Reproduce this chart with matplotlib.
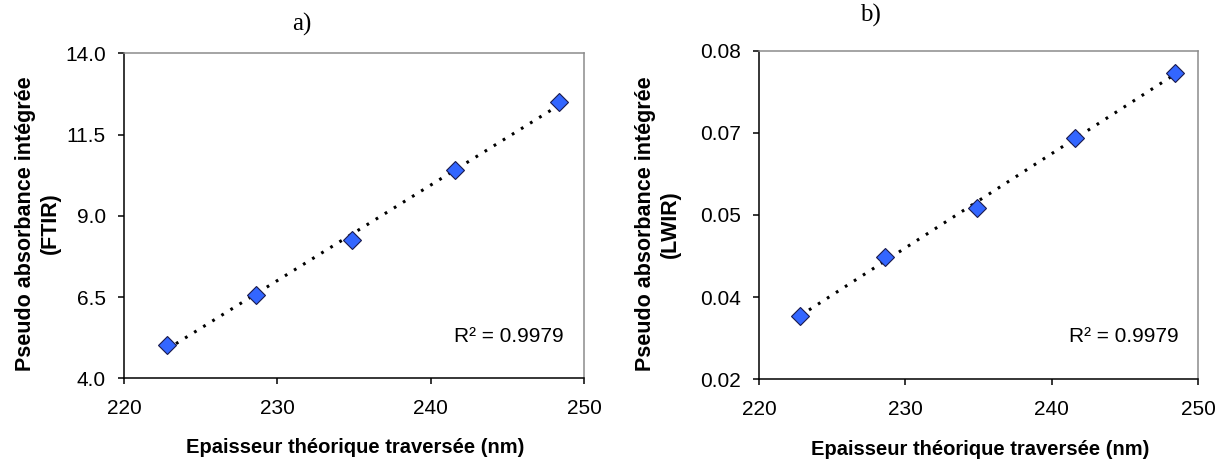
"""
Pseudo absorbance intégrée vs épaisseur théorique traversée (FTIR / LWIR).
Layout: 1 row x 2 cols, linear trendline + R² on each panel.
"""
import numpy as np
import matplotlib
matplotlib.use("Agg")
import matplotlib.pyplot as plt
import matplotlib as mpl

mpl.rcParams.update({
    "font.family": ["Liberation Sans", "DejaVu Sans"],
    "font.size": 15,
    "xtick.labelsize": 15,
    "ytick.labelsize": 15,
})

# data
THICKNESS = [222.8, 228.6, 234.9, 241.6, 248.4]
ABS_FTIR = [5.02, 6.56, 8.26, 10.41, 12.51]
ABS_LWIR = [0.0316, 0.0424, 0.0512, 0.0641, 0.0760]

FTIR_TICKS = [4.0, 6.5, 9.0, 11.5, 14.0]
FTIR_TICKLABELS = ["4.0", "6.5", "9.0", "11.5", "14.0"]
LWIR_TICKS = [0.02, 0.035, 0.05, 0.065, 0.08]
LWIR_TICKLABELS = ["0.02", "0.04", "0.05", "0.07", "0.08"]
X_TICKS = [220, 230, 240, 250]

R2_TEXT = "R² = 0.9979"
XLABEL = "Epaisseur théorique traversée (nm)"

MARKER_FACE = "#3366FF"
MARKER_EDGE = "#1a1a4d"


def draw_panel(ax, x, y, yticks, yticklabels, ylabel):
    slope, intercept = np.polyfit(x, y, 1)
    xs = np.array([min(x), max(x)])
    ax.plot(xs, slope * xs + intercept, color="black", linewidth=2.2,
            linestyle=(0, (0.9, 2.6)), zorder=2)
    ax.plot(x, y, linestyle="none", marker="D", markersize=9,
            markerfacecolor=MARKER_FACE, markeredgecolor=MARKER_EDGE,
            markeredgewidth=0.8, zorder=3)

    ax.set_xlim(220, 250)
    ax.set_xticks(X_TICKS)
    ax.set_ylim(yticks[0], yticks[-1])
    ax.set_yticks(yticks)
    ax.set_yticklabels(yticklabels)

    for side in ("top", "right"):
        ax.spines[side].set_color("#8c8c8c")
    for side in ("left", "bottom"):
        ax.spines[side].set_color("black")
    for sp in ax.spines.values():
        sp.set_linewidth(1.1)
    ax.tick_params(direction="out", length=4, width=1.1, color="black")
    ax.tick_params(axis="x", pad=11)
    ax.tick_params(axis="y", pad=9)

    ax.set_xlabel(XLABEL, fontweight="bold", fontsize=14.5)
    ax.set_ylabel(ylabel, fontweight="bold", fontsize=15.5, linespacing=1.25)
    ax.text(0.955, 0.13, R2_TEXT, transform=ax.transAxes, ha="right",
            va="center", fontsize=15)
    return ax


def main():
    fig = plt.figure(figsize=(12.24, 4.63), dpi=100)
    ax_a = fig.add_axes([0.1013, 0.1829, 0.3758, 0.7020])
    ax_b = fig.add_axes([0.6201, 0.1808, 0.3589, 0.7097])

    draw_panel(ax_a, THICKNESS, ABS_FTIR, FTIR_TICKS, FTIR_TICKLABELS,
               "Pseudo absorbance intégrée\n(FTIR)")
    draw_panel(ax_b, THICKNESS, ABS_LWIR, LWIR_TICKS, LWIR_TICKLABELS,
               "Pseudo absorbance intégrée\n(LWIR)")

    ax_a.xaxis.set_label_coords(0.502, -0.185)
    ax_b.xaxis.set_label_coords(0.503, -0.186)
    ax_a.yaxis.set_label_coords(-0.137, 0.476)
    ax_b.yaxis.set_label_coords(-0.178, 0.473)

    fig.text(302 / 1224, 1 - 24 / 463, "a)", ha="center", va="center",
             fontsize=18, family=["Liberation Serif", "DejaVu Serif"])
    fig.text(870 / 1224, 1 - 15 / 463, "b)", ha="center", va="center",
             fontsize=18, family=["Liberation Serif", "DejaVu Serif"])

    fig.savefig("out.png", dpi=100, facecolor="white")


if __name__ == "__main__":
    main()
